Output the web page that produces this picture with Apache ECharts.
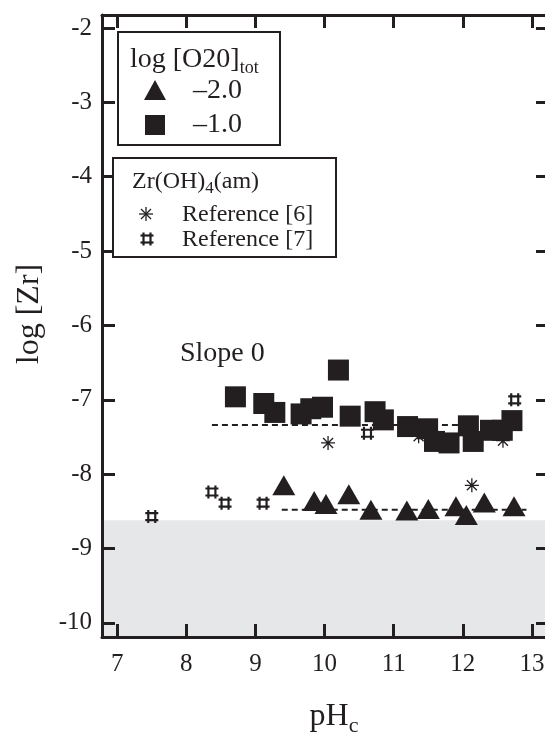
<!DOCTYPE html>
<html>
<head>
<meta charset="utf-8">
<script src="https://cdn.jsdelivr.net/npm/echarts@6.0.0/dist/echarts.min.js"></script>
<style>
  html, body { margin: 0; padding: 0; background: #fff; }
  #chart { width: 545px; height: 733px; }
</style>
</head>
<body>
<div id="chart"></div>
<script>
// tick positions
const xTicks = [7, 8, 9, 10, 11, 12, 13];
const yTicks = [-2, -3, -4, -5, -6, -7, -8, -9, -10];

// log [O20]tot = -1.0 (squares)
const squarePH = [8.71, 9.12, 9.28, 9.66, 9.80, 9.97, 10.20, 10.37, 10.73, 10.85, 11.20, 11.49, 11.59, 11.80, 12.08, 12.15, 12.40, 12.57, 12.71];
const squareZr = [-6.96, -7.05, -7.17, -7.19, -7.12, -7.10, -6.60, -7.22, -7.16, -7.27, -7.36, -7.39, -7.56, -7.58, -7.35, -7.56, -7.41, -7.41, -7.28];

// log [O20]tot = -2.0 (triangles)
const trianglePH = [9.41, 9.85, 10.02, 10.35, 10.67, 11.19, 11.50, 11.90, 12.05, 12.31, 12.74];
const triangleZr = [-8.15, -8.36, -8.40, -8.27, -8.48, -8.49, -8.47, -8.43, -8.55, -8.38, -8.43];

// Zr(OH)4(am) literature values
const ref6PH = [10.05, 11.36, 12.13, 12.58];
const ref6Zr = [-7.58, -7.49, -8.15, -7.55];
const ref7PH = [7.50, 8.37, 8.56, 9.11, 10.62, 12.75];
const ref7Zr = [-8.57, -8.24, -8.39, -8.39, -7.45, -7.00];

// slope-0 fits
const squareFitPH = [8.37, 12.80];
const squareFitZr = [-7.34, -7.34];
const triangleFitPH = [9.38, 12.92];
const triangleFitZr = [-8.48, -8.48];

// detection limit (shaded below)
const detectionLimit = -8.62;

const xMin = 6.78, xMax = 13.246;
const yMin = -10.19, yMax = -1.825;

const ink = '#231f20';
const serif = 'Liberation Serif';

const pts = (xs, ys) => xs.map((x, i) => [x, ys[i]]);

const asteriskPath = 'path://M0,-7L0,7M-7,0L7,0M-5,-5L5,5M-5,5L5,-5';
const hashPath = 'path://M-3.5,-6.5L-3.5,6.5M3.5,-6.5L3.5,6.5M-6.5,-3.5L6.5,-3.5M-6.5,3.5L6.5,3.5';

const frameLine = { show: true, onZero: false, lineStyle: { color: ink, width: 3 } };
const tickStyle = (ticks) => ({ show: true, inside: true, length: 13, customValues: ticks, lineStyle: { color: ink, width: 3 } });

// small line segments for the legend glyphs
function strokes(cx, cy, segs, width) {
  return segs.map(s => ({
    type: 'line', z: 21,
    shape: { x1: cx + s[0], y1: cy + s[1], x2: cx + s[2], y2: cy + s[3] },
    style: { stroke: ink, lineWidth: width }
  }));
}
const asteriskSegs = [[0, -7, 0, 7], [-7, 0, 7, 0], [-5, -5, 5, 5], [-5, 5, 5, -5]];
const hashSegs = [[-3.5, -6.5, -3.5, 6.5], [3.5, -6.5, 3.5, 6.5], [-6.5, -3.5, 6.5, -3.5], [-6.5, 3.5, 6.5, 3.5]];

const chart = echarts.init(document.getElementById('chart'), null, { renderer: 'canvas' });

chart.setOption({
  animation: false,
  backgroundColor: '#fff',
  textStyle: { fontFamily: serif, color: ink },
  grid: { left: 102, right: -4, top: 15, bottom: 96, containLabel: false, outerBoundsMode: 'none' },
  xAxis: [
    {
      type: 'value', position: 'bottom', min: xMin, max: xMax, splitNumber: xTicks.length - 1, z: 10,
      axisLine: frameLine, axisTick: tickStyle(xTicks), splitLine: { show: false },
      axisLabel: { show: true, margin: 15, fontSize: 25, fontFamily: serif, color: ink, showMinLabel: false, showMaxLabel: false }
    },
    {
      type: 'value', position: 'top', min: xMin, max: xMax, z: 10,
      axisLine: frameLine, axisTick: tickStyle(xTicks), splitLine: { show: false },
      axisLabel: { show: false }
    }
  ],
  yAxis: [
    {
      type: 'value', position: 'left', min: yMin, max: yMax, splitNumber: yTicks.length - 1, z: 10,
      axisLine: frameLine, axisTick: tickStyle(yTicks), splitLine: { show: false },
      axisLabel: { show: true, margin: 10, fontSize: 25, fontFamily: serif, color: ink, showMinLabel: false, showMaxLabel: false }
    },
    {
      type: 'value', position: 'right', min: yMin, max: yMax, z: 10,
      axisLine: frameLine, axisTick: tickStyle(yTicks), splitLine: { show: false },
      axisLabel: { show: false }
    }
  ],
  series: [
    {
      name: 'fit -2.0',
      type: 'line',
      data: pts(triangleFitPH, triangleFitZr),
      symbol: 'none',
      silent: true,
      z: 3,
      lineStyle: { color: ink, width: 2, type: [6, 4] },
      markArea: {
        silent: true,
        itemStyle: { color: '#e6e7e8', opacity: 1 },
        data: [[{ yAxis: detectionLimit }, { yAxis: yMin }]]
      }
    },
    {
      name: 'fit -1.0',
      type: 'line',
      data: pts(squareFitPH, squareFitZr),
      symbol: 'none',
      silent: true,
      z: 3,
      lineStyle: { color: ink, width: 2, type: [6, 4] }
    },
    {
      name: 'Reference [6]',
      type: 'scatter',
      data: pts(ref6PH, ref6Zr),
      symbol: asteriskPath,
      symbolSize: 14,
      silent: true,
      z: 2,
      itemStyle: { color: 'none', borderColor: ink, borderWidth: 1.3, opacity: 1 }
    },
    {
      name: 'Reference [7]',
      type: 'scatter',
      data: pts(ref7PH, ref7Zr),
      symbol: hashPath,
      symbolSize: 13,
      silent: true,
      z: 2,
      itemStyle: { color: 'none', borderColor: ink, borderWidth: 2.2, opacity: 1 }
    },
    {
      name: '-1.0',
      type: 'scatter',
      data: pts(squarePH, squareZr),
      symbol: 'rect',
      symbolSize: 21,
      silent: true,
      z: 4,
      itemStyle: { color: ink, opacity: 1 }
    },
    {
      name: '-2.0',
      type: 'scatter',
      data: pts(trianglePH, triangleZr),
      symbol: 'triangle',
      symbolSize: [23, 20],
      silent: true,
      z: 4,
      itemStyle: { color: ink, opacity: 1 }
    }
  ],
  graphic: [
    // legend 1
    { type: 'rect', z: 20, shape: { x: 118, y: 32, width: 162, height: 113 }, style: { fill: '#fff', stroke: ink, lineWidth: 2 } },
    {
      type: 'text', z: 21, x: 130, y: 60,
      style: {
        text: '{a|log [O20]}{b|tot}', align: 'left', verticalAlign: 'middle', fill: ink,
        rich: {
          a: { fontFamily: serif, fontSize: 28, lineHeight: 34, fill: ink },
          b: { fontFamily: serif, fontSize: 18, lineHeight: 18, verticalAlign: 'bottom', fill: ink }
        }
      }
    },
    { type: 'polygon', z: 21, shape: { points: [[144, 100], [166, 100], [155, 80]] }, style: { fill: ink } },
    { type: 'text', z: 21, x: 193, y: 91, style: { text: '\u20132.0', fontFamily: serif, fontSize: 28, fill: ink, align: 'left', verticalAlign: 'middle' } },
    { type: 'rect', z: 21, shape: { x: 145, y: 115, width: 20, height: 20 }, style: { fill: ink } },
    { type: 'text', z: 21, x: 193, y: 125, style: { text: '\u20131.0', fontFamily: serif, fontSize: 28, fill: ink, align: 'left', verticalAlign: 'middle' } },

    // legend 2
    { type: 'rect', z: 20, shape: { x: 113, y: 158, width: 223, height: 99 }, style: { fill: '#fff', stroke: ink, lineWidth: 2 } },
    {
      type: 'text', z: 21, x: 132, y: 182,
      style: {
        text: '{a|Zr(OH)}{b|4}{a|(am)}', align: 'left', verticalAlign: 'middle', fill: ink,
        rich: {
          a: { fontFamily: serif, fontSize: 24, lineHeight: 30, fill: ink },
          b: { fontFamily: serif, fontSize: 17, lineHeight: 17, verticalAlign: 'bottom', fill: ink }
        }
      }
    },
    ...strokes(146, 214, asteriskSegs, 1.3),
    { type: 'text', z: 21, x: 182, y: 215, style: { text: 'Reference [6]', fontFamily: serif, fontSize: 24, fill: ink, align: 'left', verticalAlign: 'middle' } },
    ...strokes(147, 239, hashSegs, 2.2),
    { type: 'text', z: 21, x: 182, y: 240, style: { text: 'Reference [7]', fontFamily: serif, fontSize: 24, fill: ink, align: 'left', verticalAlign: 'middle' } },

    // annotation
    { type: 'text', z: 21, x: 180, y: 354, style: { text: 'Slope 0', fontFamily: serif, fontSize: 28, fill: ink, align: 'left', verticalAlign: 'middle' } },

    // axis titles
    {
      type: 'text', z: 21, x: 334, y: 717,
      style: {
        text: '{a|pH}{b|c}', align: 'center', verticalAlign: 'middle', fill: ink,
        rich: {
          a: { fontFamily: serif, fontSize: 32, lineHeight: 40, fill: ink },
          b: { fontFamily: serif, fontSize: 22, lineHeight: 22, verticalAlign: 'bottom', fill: ink }
        }
      }
    },
    {
      type: 'text', z: 21, x: 30, y: 314, rotation: Math.PI / 2,
      style: { text: 'log [Zr]', fontFamily: serif, fontSize: 32, fill: ink, align: 'center', verticalAlign: 'middle' }
    }
  ]
});
</script>
</body>
</html>
